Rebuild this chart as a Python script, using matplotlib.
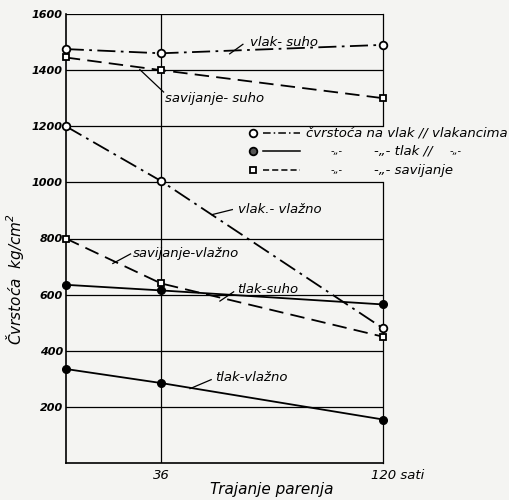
import numpy as np
import matplotlib
matplotlib.use('Agg')
import matplotlib.pyplot as plt
import matplotlib.transforms as mtransforms

# trajanje parenja (sati)
hours = [0, 36, 120]

# cvrstoca kg/cm2, procitano sa slike
vlak_suho = [1475, 1460, 1490]
vlak_vlazno = [1200, 1005, 480]
tlak_suho = [635, 615, 565]
tlak_vlazno = [335, 285, 155]
savijanje_suho = [1445, 1400, 1300]
savijanje_vlazno = [800, 640, 450]

y_ticks = [200, 400, 600, 800, 1000, 1200, 1400, 1600]
x_ticks = [36, 120]
x_ticklabels = ['36', '120 sati']

plt.rcParams['font.family'] = ['DejaVu Sans']
plt.rcParams['font.style'] = 'italic'

fig = plt.figure(figsize=(5.1, 5.0), dpi=100)
fig.patch.set_facecolor('#f4f4f2')
ax = fig.add_axes([0.129, 0.074, 0.622, 0.898])
ax.set_facecolor('#f4f4f2')

dashdot = (0, (10, 3, 1.5, 3))
dashed = (0, (8, 4))
lw = 1.3
ms = 5.5

for h in y_ticks:
    ax.axhline(h, color='black', lw=0.9, zorder=1)
ax.axvline(36, color='black', lw=0.9, zorder=1)

ax.plot(hours, vlak_suho, color='black', ls=dashdot, lw=lw, marker='o', ms=ms,
        mfc='white', mec='black', mew=1.3, clip_on=False, zorder=3)
ax.plot(hours, vlak_vlazno, color='black', ls=dashdot, lw=lw, marker='o', ms=ms,
        mfc='white', mec='black', mew=1.3, clip_on=False, zorder=3)
ax.plot(hours, savijanje_suho, color='black', ls=dashed, lw=lw, marker='s', ms=ms - 0.5,
        mfc='white', mec='black', mew=1.3, clip_on=False, zorder=3)
ax.plot(hours, savijanje_vlazno, color='black', ls=dashed, lw=lw, marker='s', ms=ms - 0.5,
        mfc='white', mec='black', mew=1.3, clip_on=False, zorder=3)
ax.plot(hours, tlak_suho, color='black', ls='-', lw=lw, marker='o', ms=ms,
        mfc='black', mec='black', clip_on=False, zorder=3)
ax.plot(hours, tlak_vlazno, color='black', ls='-', lw=lw, marker='o', ms=ms,
        mfc='black', mec='black', clip_on=False, zorder=3)

ax.set_xlim(0, 120)
ax.set_ylim(0, 1600)

for s in ['top', 'right']:
    ax.spines[s].set_visible(False)
ax.spines['left'].set_linewidth(1.2)
ax.spines['bottom'].set_linewidth(1.2)
# desni rub prekinut legendom
ax.plot([120, 120], [0, 1000], color='black', lw=0.9, clip_on=False)
ax.plot([120, 120], [1200, 1600], color='black', lw=0.9, clip_on=False)

ax.set_yticks(y_ticks)
ax.set_yticklabels([str(t) for t in y_ticks], fontsize=8, fontweight='bold')
ax.set_xticks(x_ticks)
ax.set_xticklabels(x_ticklabels, fontsize=9.5)
ax.tick_params(axis='y', length=0, pad=2)
ax.tick_params(axis='x', length=0, pad=4)
lbl = ax.get_xticklabels()[1]
lbl.set_horizontalalignment('left')
lbl.set_transform(lbl.get_transform() +
                  mtransforms.ScaledTranslation(-0.12, 0, fig.dpi_scale_trans))

ax.set_ylabel(u'Čvrstoća  kg/cm$^2$', fontsize=11)
ax.yaxis.set_label_coords(-0.125, 0.41)
ax.set_xlabel('Trajanje parenja', fontsize=11)
ax.xaxis.set_label_coords(0.65, -0.042)

# natpisi krivulja s kratkim crticama
labels = [
    ('vlak- suho', (69.5, 1497), (62, 1458), (67, 1492)),
    ('savijanje- suho', (37.5, 1300), (28, 1402), (37, 1322)),
    (u'vlak.- vlažno', (65, 905), (55.3, 885), (63, 903)),
    (u'savijanje-vlažno', (25.4, 748), (17.8, 711), (24.5, 745)),
    ('tlak-suho', (64.8, 617), (58.3, 577), (63.5, 610)),
    (u'tlak-vlažno', (56.4, 305), (47, 265), (55, 297)),
]
for txt, tpos, p0, p1 in labels:
    ax.text(tpos[0], tpos[1], txt, fontsize=9.5, va='center', ha='left')
    ax.plot([p0[0], p1[0]], [p0[1], p1[1]], color='black', lw=0.9)

# legenda
rows_y = [1175, 1112, 1044]
ax.plot([70.8], [rows_y[0]], marker='o', ms=ms, mfc='white', mec='black', mew=1.3)
ax.plot([74.5, 88.5], [rows_y[0]] * 2, color='black', ls=(0, (5, 2, 1, 2)), lw=1.1)
ax.plot([70.8], [rows_y[1]], marker='o', ms=ms, mfc='#555555', mec='black', mew=1.3)
ax.plot([74.5, 88.5], [rows_y[1]] * 2, color='black', ls='-', lw=1.1)
ax.plot([70.8], [rows_y[2]], marker='s', ms=ms - 0.5, mfc='white', mec='black', mew=1.3)
ax.plot([74.5, 88.5], [rows_y[2]] * 2, color='black', ls=(0, (4, 2)), lw=1.1)

ax.text(91, rows_y[0], u'čvrstoća na vlak // vlakancima', fontsize=9.5, va='center',
        ha='left', clip_on=False)
ax.text(100, rows_y[1], u'-„-', fontsize=7, va='center', ha='left')
ax.text(116.5, rows_y[1], u'-„- tlak //', fontsize=9.5, va='center', ha='left')
ax.text(145, rows_y[1], u'-„-', fontsize=7, va='center', ha='left')
ax.text(100, rows_y[2], u'-„-', fontsize=7, va='center', ha='left')
ax.text(116.5, rows_y[2], u'-„- savijanje', fontsize=9.5, va='center', ha='left')

fig.savefig('out.png', dpi=100, facecolor=fig.get_facecolor())
